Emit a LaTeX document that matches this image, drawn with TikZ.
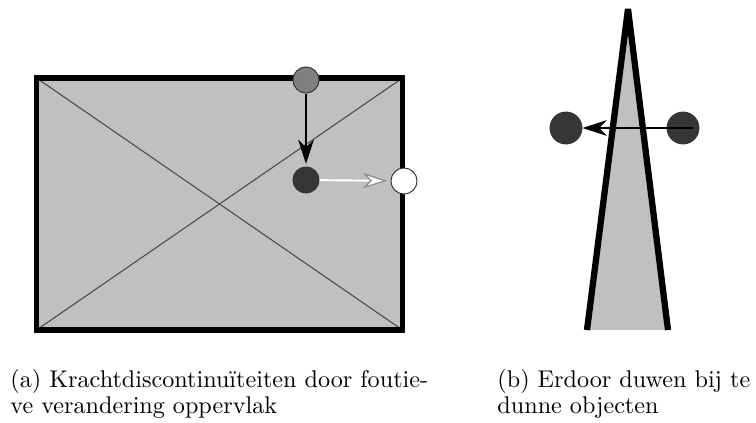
\documentclass[tikz,border=0pt]{standalone}
\usepackage{fontspec}
\usepackage{tikz}
\usetikzlibrary{arrows.meta,positioning}
\definecolor{plateGrey}{HTML}{C0C0C0}
\definecolor{dotMid}{HTML}{7F7F7F}
\definecolor{dotDark}{HTML}{363636}

\begin{document}
\begin{tikzpicture}[x=0.414pt,y=-0.414pt,
  dot/.style={circle,draw=black!80,line width=0.4pt,fill=#1,inner sep=0pt,minimum size=10.8pt},
  frame/.style={line width=2.3pt,line join=miter},
  diag/.style={line width=0.45pt,black!70},
  arr/.style={-{Stealth[length=10pt,width=6.4pt,inset=3pt]},line width=1.2pt,black},
  warr/.style={-{Stealth[length=10pt,width=6.4pt,inset=3pt,black!45,fill=white,line width=0.5pt]},line width=0.8pt,white},
  wedge/.style={line width=2.6pt,line join=bevel},
  subcap/.style={align=left,inner sep=0pt,anchor=base west,font=\fontsize{10}{10.4}\selectfont}]
\useasboundingbox (0,0) rectangle (756,423);
% (a) plate with wrong surface change
\coordinate (nw) at (36.5,78);
\coordinate (se) at (402.5,330);
\fill[plateGrey] (nw) rectangle (se);
\draw[diag] (nw) -- (se);
\draw[diag] (nw |- se) -- (se |- nw);
\draw[frame] (nw) rectangle (se);
\node[dot=dotMid] (top) at (306,80) {};
\node[dot=dotDark] (mid) at (306,180) {};
\node[dot=white] (edge) at (404,181) {};
\draw[arr,shorten >=1pt] (top) -- (mid);
\draw[warr,shorten >=1.4pt] (mid) -- (edge);
% (b) thin object, pushed through
\fill[plateGrey] (587,330) -- (628,9) -- (668,330) -- cycle;
\draw[wedge] (587,330) -- (628,9) -- (668,330);
\node[dot=dotDark,minimum size=13.2pt] (pushL) at (566,128) {};
\node[dot=dotDark,minimum size=13.2pt] (pushR) at (683,128) {};
\draw[arr] ([xshift=4.1pt]pushR.center) -- (pushL);
% captions
\node[subcap] (capA) at (10,413) {(a) Krachtdiscontinuïteiten door foutie-\\ve verandering oppervlak};
\node[subcap] (capB) at (497,413) {(b) Erdoor duwen bij te\\dunne objecten};
\end{tikzpicture}
\end{document}
